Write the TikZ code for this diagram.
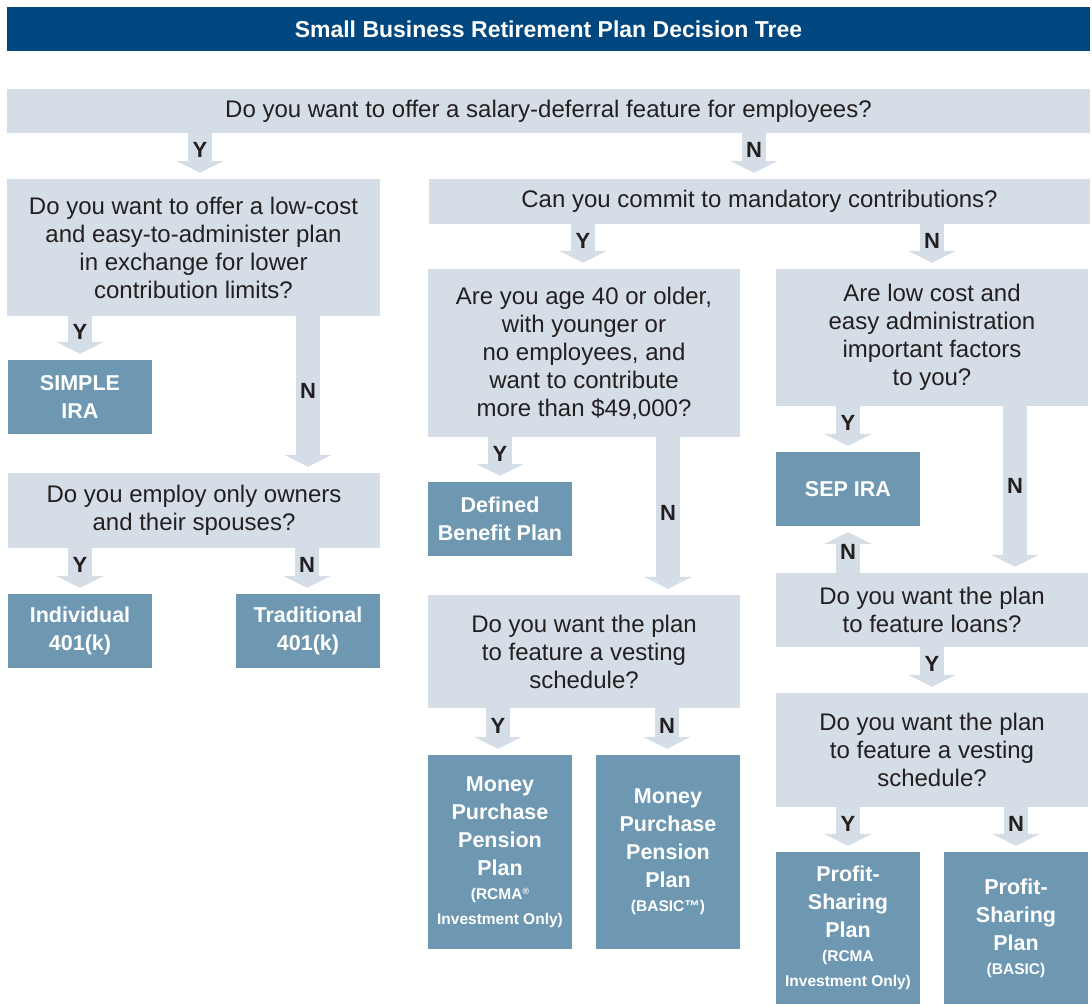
\documentclass[tikz,border=0pt]{standalone}
\usepackage{fontspec}
\setmainfont{Liberation Sans}
\usetikzlibrary{arrows.meta}

\definecolor{titleblue}{HTML}{00467F}
\definecolor{qgray}{HTML}{D5DEE7}
\definecolor{planblue}{HTML}{6E98B2}
\definecolor{ink}{HTML}{231F20}
\newcommand{\notefont}{\fontsize{15.5}{19}\selectfont}

\begin{document}
\begin{tikzpicture}[x=1pt,y=-1pt,
  question/.style={fill=qgray,inner sep=0pt,align=center,text=ink,font=\fontsize{24}{28}\selectfont},
  plan/.style={fill=planblue,inner sep=0pt,align=center,text=white,minimum width=144pt,font=\fontsize{21.5}{28}\selectfont\bfseries},
  flow/.style={draw=qgray,line width=24pt,-{Triangle[width=48pt,length=12pt,line width=0pt]},shorten >=6pt},
  yn/.style={font=\fontsize{22}{22}\selectfont\bfseries,text=ink,pos=.37}]
\useasboundingbox (0,0) rectangle (1092,1006);

\coordinate (c0) at (548.5,29);
\coordinate (c1) at (548.5,111);
\coordinate (c2) at (193.5,247.5);
\coordinate (c3) at (759.5,201.5);
\coordinate (c4) at (194,510.5);
\coordinate (c5) at (584,353);
\coordinate (c6) at (584,651.5);
\coordinate (c7) at (932,337.5);
\coordinate (c8) at (932,610);
\coordinate (c9) at (932,750);

  \node (title) at (c0) [fill=titleblue,text=white,minimum width=1083pt,minimum height=44pt,font=\fontsize{23}{26}\selectfont\bfseries] {Small Business Retirement Plan Decision Tree};

  \node (q1) at (c1) [question,minimum width=1083pt,minimum height=44pt] {Do you want to offer a salary-deferral feature for employees?};
  \node (q2) at (c2) [question,minimum width=373pt,minimum height=137pt] {Do you want to offer a low-cost\\and easy-to-administer plan\\in exchange for lower\\contribution limits?};
  \node (q3) at (c3) [question,minimum width=661pt,minimum height=45pt] {Can you commit to mandatory contributions?};
  \node (q4) at (c4) [question,minimum width=372pt,minimum height=75pt] {Do you employ only owners\\and their spouses?};
  \node (q5) at (c5) [question,minimum width=312pt,minimum height=168pt] {Are you age 40 or older,\\with younger or\\no employees, and\\want to contribute\\more than \$49,000?};
  \node (q6) at (c6) [question,minimum width=312pt,minimum height=113pt] {Do you want the plan\\to feature a vesting\\schedule?};
  \node (q7) at (c7) [question,minimum width=312pt,minimum height=137pt] {Are low cost and\\easy administration\\important factors\\to you?};
  \node (q8) at (c8) [question,minimum width=312pt,minimum height=74pt] {Do you want the plan\\to feature loans?};
  \node (q9) at (c9) [question,minimum width=312pt,minimum height=114pt] {Do you want the plan\\to feature a vesting\\schedule?};

  \node (simple) at (80,397) [plan,minimum height=74pt] {SIMPLE\\IRA};
  \node (indiv) at (80,631) [plan,minimum height=74pt] {Individual\\401(k)};
  \node (trad) at (308,631) [plan,minimum height=74pt] {Traditional\\401(k)};
  \node (dbp) at (500,519) [plan,minimum height=74pt] {Defined\\Benefit Plan};
  \node (mpp1) at (500,852) [plan,minimum height=194pt] {Money\\Purchase\\Pension\\Plan\\[-4pt]\notefont(RCMA{\fontsize{9}{9}\selectfont\raisebox{5pt}{®}}\\[-3pt]\notefont Investment Only)};
  \node (mpp2) at (668,852) [plan,minimum height=194pt] {Money\\Purchase\\Pension\\Plan\\[-4pt]\notefont(BASIC™)};
  \node (sep) at (848,489) [plan,minimum height=74pt] {SEP IRA};
  \node (ps1) at (848,928) [plan,minimum height=152pt] {Profit-\\Sharing\\Plan\\[-4pt]\notefont(RCMA\\[-3pt]\notefont Investment Only)};
  \node (ps2) at (1016,928) [plan,minimum height=152pt] {Profit-\\Sharing\\Plan\\[-4pt]\notefont(BASIC)};

  \draw[flow] (q1.south -| 200,0) -- node[yn]{Y} (q2.north -| 200,0);
  \draw[flow] (q1.south -| 754,0) -- node[yn]{N} (q3.north -| 754,0);
  \draw[flow] (q2.south -| 80,0) -- node[yn]{Y} (simple.north -| 80,0);
  \draw[flow] (q2.south -| 308,0) -- node[yn,pos=.48]{N} (q4.north -| 308,0);
  \draw[flow] (q4.south -| 80,0) -- node[yn]{Y} (indiv.north -| 80,0);
  \draw[flow] (q4.south -| 307,0) -- node[yn]{N} (trad.north -| 307,0);
  \draw[flow] (q3.south -| 583,0) -- node[yn]{Y} (q5.north -| 583,0);
  \draw[flow] (q3.south -| 932,0) -- node[yn]{N} (q7.north -| 932,0);
  \draw[flow] (q5.south -| 500,0) -- node[yn]{Y} (dbp.north -| 500,0);
  \draw[flow] (q5.south -| 668,0) -- node[yn,pos=.48]{N} (q6.north -| 668,0);
  \draw[flow] (q6.south -| 498,0) -- node[yn]{Y} (mpp1.north -| 498,0);
  \draw[flow] (q6.south -| 667,0) -- node[yn]{N} (mpp2.north -| 667,0);
  \draw[flow] (q7.south -| 848,0) -- node[yn]{Y} (sep.north -| 848,0);
  \draw[flow] (q7.south -| 1015,0) -- node[yn,pos=.48]{N} (q8.north -| 1015,0);
  \draw[flow] (q8.north -| 848,0) -- node[yn,pos=.45]{N} (sep.south -| 848,0);
  \draw[flow] (q8.south -| 932,0) -- node[yn]{Y} (q9.north -| 932,0);
  \draw[flow] (q9.south -| 848,0) -- node[yn]{Y} (ps1.north -| 848,0);
  \draw[flow] (q9.south -| 1016,0) -- node[yn]{N} (ps2.north -| 1016,0);
\end{tikzpicture}
\end{document}
